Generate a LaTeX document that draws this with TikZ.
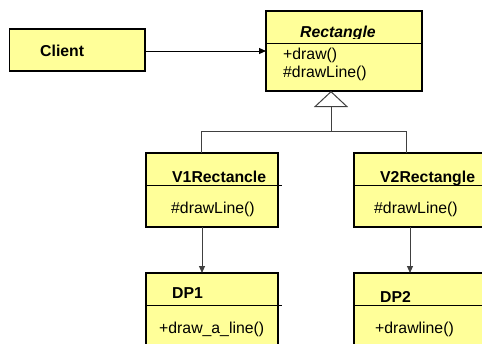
\documentclass[tikz,border=0pt]{standalone}
\usepackage{fontspec}
\setmainfont{Liberation Sans}
\usetikzlibrary{arrows.meta}
\definecolor{umlyellow}{RGB}{255,255,153}
\definecolor{linegray}{RGB}{64,64,64}
\begin{document}
\begin{tikzpicture}[x=1pt,y=-1pt,
  umlbox/.style={draw=black,fill=umlyellow,line width=1.1pt,inner sep=0pt,outer sep=0pt,anchor=north west,rectangle},
  divider/.style={draw=black,line width=1pt},
  lbl/.style={anchor=base west,inner sep=0pt,font=\fontsize{15.8}{18}\selectfont},
  blbl/.style={lbl,font=\fontsize{15.8}{18}\selectfont\bfseries},
  conn/.style={draw=linegray,line width=1pt},
  tip/.style={-{Triangle[length=7pt,width=6pt]}}
]
\clip (0,0) rectangle (482,343);
\fill[white] (0,0) rectangle (482,343);

% boxes
\node[umlbox,minimum width=135.5pt,minimum height=42pt] (client) at (9.5,29) {};
\node[umlbox,minimum width=156pt,minimum height=80pt] (rect) at (266,11) {};
\node[umlbox,minimum width=132pt,minimum height=74pt] (v1) at (146,153) {};
\node[umlbox,minimum width=140pt,minimum height=74pt] (v2) at (354,153) {};
\node[umlbox,minimum width=132pt,minimum height=90pt] (dp1) at (146,273) {};
\node[umlbox,minimum width=140pt,minimum height=90pt] (dp2) at (354,273) {};

% dividers
\draw[divider] ([yshift=-32pt]rect.north west) -- ([yshift=-32pt]rect.north east);
\draw[divider] ([yshift=-32pt]v1.north west) -- ([yshift=-32pt,xshift=4pt]v1.north east);
\draw[divider] ([yshift=-32pt]v2.north west) -- ([yshift=-32pt]v2.north east);
\draw[divider] ([yshift=-32pt]dp1.north west) -- ([yshift=-32pt,xshift=4pt]dp1.north east);
\draw[divider] ([yshift=-32pt]dp2.north west) -- ([yshift=-32pt]dp2.north east);

% texts
\node[blbl] (tclient) at (40,56) {Client};
\begin{scope}
  \clip (280,15) rectangle (410,38);
  \node[blbl,font=\fontsize{15.8}{18}\selectfont\bfseries\itshape] (trect) at (300,37) {Rectangle};
\end{scope}
\node[lbl] (tdraw) at (283,59.5) {+draw()};
\node[lbl] (tdl) at (283,77) {\#drawLine()};
\node[blbl] (tv1) at (172,182) {V1Rectancle};
\node[lbl] (tv1m) at (171,213) {\#drawLine()};
\node[blbl] (tv2) at (380,182) {V2Rectangle};
\node[lbl] (tv2m) at (374,213) {\#drawLine()};
\node[blbl] (tdp1) at (172,298) {DP1};
\node[lbl] (tdp1m) at (159,333) {+draw\_a\_line()};
\node[blbl] (tdp2) at (380,302) {DP2};
\node[lbl] (tdp2m) at (375,333) {+drawline()};

% association Client -> Rectangle
\draw[draw=black,line width=1pt,tip] ([yshift=-1pt]client.east) -- ([yshift=-1pt]client.east -| rect.west);

% inheritance
\coordinate (junc) at (331,131);
\draw[conn,-{Triangle[open,length=16pt,width=34pt,line width=1pt]}] (junc) -- (junc |- rect.south);
\coordinate (jl) at ([xshift=55pt]v1.north west |- junc);
\coordinate (jr) at ([xshift=52pt]v2.north west |- junc);
\draw[conn] ([xshift=55pt]v1.north west) -- (jl) -- (jr) -- ([xshift=52pt]v2.north west);

% uses
\draw[conn,tip] ([xshift=56pt]v1.south west) -- ([xshift=56pt]dp1.north west);
\draw[conn,tip] ([xshift=56pt]v2.south west) -- ([xshift=56pt]dp2.north west);
\end{tikzpicture}
\end{document}
